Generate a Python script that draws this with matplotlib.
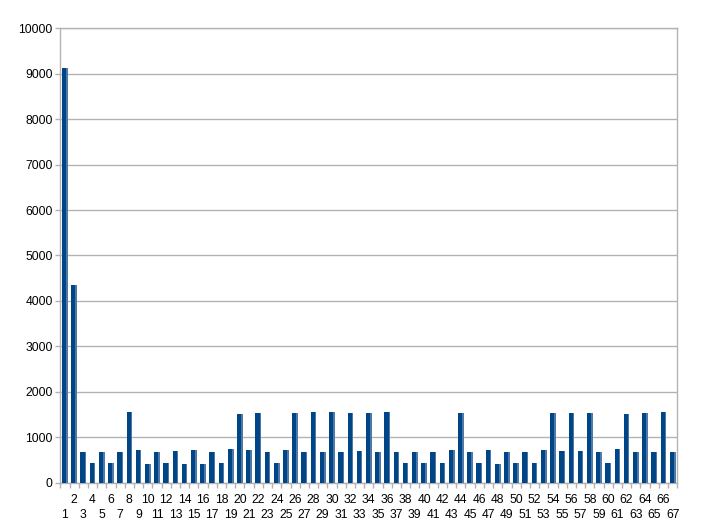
import matplotlib.pyplot as plt
import numpy as np

plt.rcParams['font.family'] = ['Liberation Sans', 'DejaVu Sans']

# bar values
categories = list(range(1, 68))
values = [9130, 4360, 670, 438, 670, 438, 670, 1562, 715, 416,
          670, 438, 693, 416, 715, 416, 670, 438, 737, 1504,
          715, 1526, 670, 438, 715, 1526, 670, 1562, 670, 1562,
          670, 1540, 693, 1540, 670, 1562, 670, 438, 670, 438,
          670, 438, 715, 1540, 670, 438, 715, 416, 670, 438,
          670, 438, 715, 1526, 693, 1526, 693, 1540, 670, 438,
          737, 1504, 670, 1540, 670, 1562, 670]

fig = plt.figure(figsize=(7.06, 5.28), dpi=100)
ax = fig.add_axes([0.0854, 0.0858, 0.8739, 0.8606])

x = np.arange(len(values))
ax.bar(x, values, width=0.62, color='#004586', zorder=3)
# lighter right edge, like the 3d look in the original
ax.bar(x + 0.23, values, width=0.16, color='#4d78a8', zorder=4)

ax.set_xlim(-0.5, len(values) - 0.5)
ax.set_ylim(0, 10000)
ax.set_yticks(np.arange(0, 10001, 1000))
ax.yaxis.grid(True, color='#b3b3b3', lw=1, zorder=0)

# even labels on the upper row, odd labels on the lower row
even = [i for i, c in enumerate(categories) if c % 2 == 0]
odd = [i for i, c in enumerate(categories) if c % 2 == 1]
ax.set_xticks(even)
ax.set_xticklabels([str(categories[i]) for i in even], fontsize=8.7)
ax.set_xticks(odd, minor=True)
ax.set_xticklabels([str(categories[i]) for i in odd], minor=True, fontsize=8.7)
ax.tick_params(axis='x', which='major', length=0, pad=8)
ax.tick_params(axis='x', which='minor', length=0, pad=19)

# small tick marks between the categories
sec = ax.secondary_xaxis('bottom')
sec.set_xticks(np.arange(-0.5, len(values)))
sec.set_xticklabels([])
sec.tick_params(length=3.5, color='#b3b3b3', width=1)
sec.spines['bottom'].set_visible(False)

ax.tick_params(axis='y', length=3.5, color='#b3b3b3', width=1, labelsize=8.7, pad=2)

for s in ax.spines.values():
    s.set_color('#b3b3b3')
    s.set_linewidth(1)

fig.savefig('out.png', dpi=100)
